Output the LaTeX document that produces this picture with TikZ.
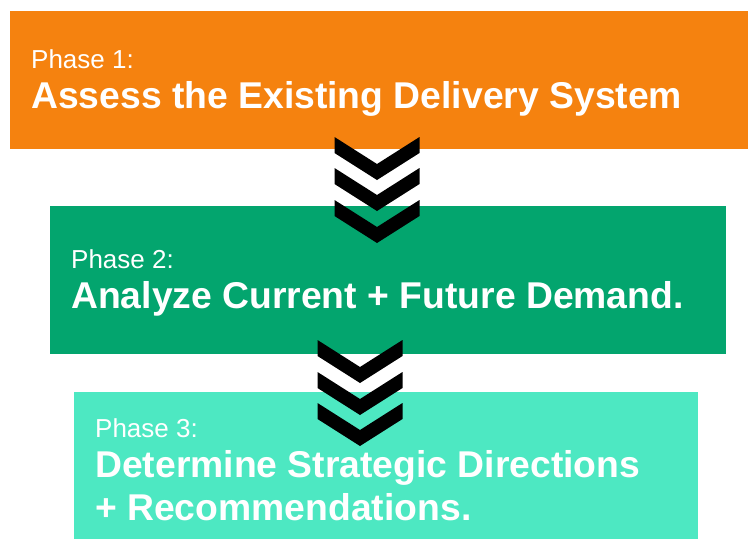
\documentclass[tikz,border=0pt]{standalone}
\usepackage{fontspec}
\setmainfont{Liberation Sans}
\definecolor{phaseone}{HTML}{F5820F}
\definecolor{phasetwo}{HTML}{03A56E}
\definecolor{phasethree}{HTML}{4DE8C2}
\begin{document}
\begin{tikzpicture}[x=1pt,y=-1pt,
  phasebox/.style={draw=none,inner sep=0pt,anchor=north west},
  phaselabel/.style={text=white,anchor=base west,inner sep=0pt,font=\fontsize{26}{30}\selectfont},
  phasetitle/.style={text=white,anchor=base west,inner sep=0pt,font=\fontsize{37.3}{43}\selectfont\bfseries},
  chev/.style={fill=black,draw=none}]
\useasboundingbox (0,0) rectangle (748,539);
% boxes
\node[phasebox,fill=phaseone,minimum width=738pt,minimum height=138pt] (b1) at (10,11) {};
\node[phasebox,fill=phasetwo,minimum width=676pt,minimum height=148pt] (b2) at (50,206) {};
\node[phasebox,fill=phasethree,minimum width=624pt,minimum height=147pt] (b3) at (74,392) {};
% texts
\node[phaselabel] (l1) at (31,68) {Phase 1:};
\node[phasetitle] (t1) at (31,108) {Assess the Existing Delivery System};
\node[phaselabel] (l2) at (71,268) {Phase 2:};
\node[phasetitle] (t2) at (71,308) {Analyze Current + Future Demand.};
\node[phaselabel] (l3) at (95,437) {Phase 3:};
\node[phasetitle] (t3) at (95,477) {Determine Strategic Directions};
\node[phasetitle] (t4) at (95,520) {+ Recommendations.};
% chevrons
\foreach \cx/\ty in {377/137, 377/168, 377/200, 360/340, 360/372, 360/403}{
  \fill[chev] (\cx-42.5,\ty) -- (\cx,\ty+27) -- (\cx+42.5,\ty) -- (\cx+42.5,\ty+16)
     -- (\cx,\ty+43) -- (\cx-42.5,\ty+16) -- cycle;
}
\end{tikzpicture}
\end{document}
